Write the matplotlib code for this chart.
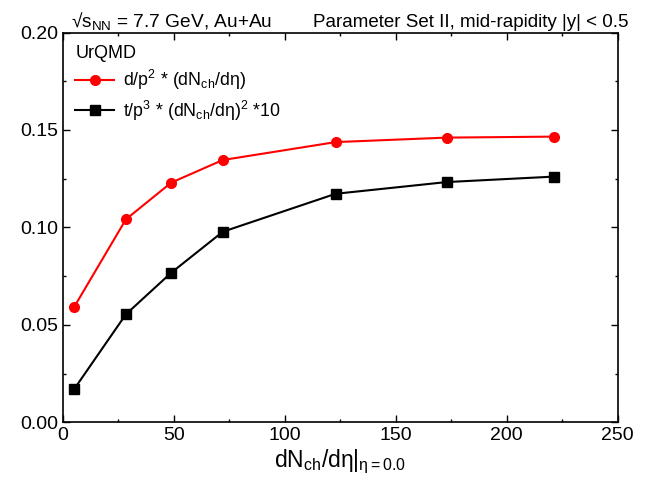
import matplotlib
matplotlib.use("Agg")
import matplotlib.pyplot as plt
from matplotlib.ticker import MultipleLocator

plt.rcParams["font.family"] = ["Liberation Sans", "DejaVu Sans"]
plt.rcParams["mathtext.fontset"] = "custom"
plt.rcParams["mathtext.rm"] = "Liberation Sans"
plt.rcParams["mathtext.it"] = "Liberation Sans"

# Data
dnch = [5.1, 28.5, 48.9, 72.1, 123.0, 173.0, 221.4]
d_ratio = [0.0591, 0.1042, 0.1230, 0.1346, 0.1438, 0.1461, 0.1466]
t_ratio = [0.0170, 0.0555, 0.0768, 0.0978, 0.1173, 0.1233, 0.1261]
t_err = [0.0008, 0.0015, 0.0015, 0.0008, 0.0008, 0.0008, 0.0008]

fig = plt.figure(figsize=(6.49, 4.83), dpi=100)
ax = fig.add_axes([0.0966, 0.1253, 0.855, 0.8074])

ax.plot(dnch, d_ratio, color="red", marker="o", markersize=7, lw=1.5,
        label=r"d/p$^2$ * (dN$_{\mathrm{ch}}$/d$\eta$)")
ax.errorbar(dnch, t_ratio, yerr=t_err, fmt="none", ecolor="black",
            capsize=2.5, elinewidth=1)
ax.plot(dnch, t_ratio, color="black", marker="s", markersize=6.5, lw=1.5,
        label=r"t/p$^3$ * (dN$_{\mathrm{ch}}$/d$\eta$)$^2$ *10")

ax.set_xlim(0, 250)
ax.set_ylim(0, 0.20)
ax.xaxis.set_major_locator(MultipleLocator(50))
ax.xaxis.set_minor_locator(MultipleLocator(25))
ax.yaxis.set_major_locator(MultipleLocator(0.05))
ax.yaxis.set_minor_locator(MultipleLocator(0.025))
ax.yaxis.set_major_formatter(plt.FormatStrFormatter("%.2f"))
ax.tick_params(which="both", direction="in", top=True, right=True, labelsize=14)
ax.tick_params(which="major", length=5, width=1)
ax.tick_params(which="minor", length=2.5, width=1)
for s in ax.spines.values():
    s.set_linewidth(1.2)

ax.set_xlabel(r"dN$_{\mathrm{ch}}$/d$\eta$|$_{\eta\mathrm{=0.0}}$", fontsize=16.5, labelpad=2)

fig.text(0.11, 0.945, "\u221As$_{\\mathrm{NN}}$ = 7.7 GeV, Au+Au", fontsize=13.8)
fig.text(0.968, 0.945, "Parameter Set II, mid-rapidity |y| < 0.5", fontsize=13.5, ha="right")

leg = ax.legend(loc="upper left", title="UrQMD", frameon=False, fontsize=12.8,
                title_fontsize=13, handlelength=2.2, handletextpad=0.5,
                borderaxespad=0.3, labelspacing=0.35)
leg._legend_box.align = "left"

fig.savefig("out.png", dpi=100)
